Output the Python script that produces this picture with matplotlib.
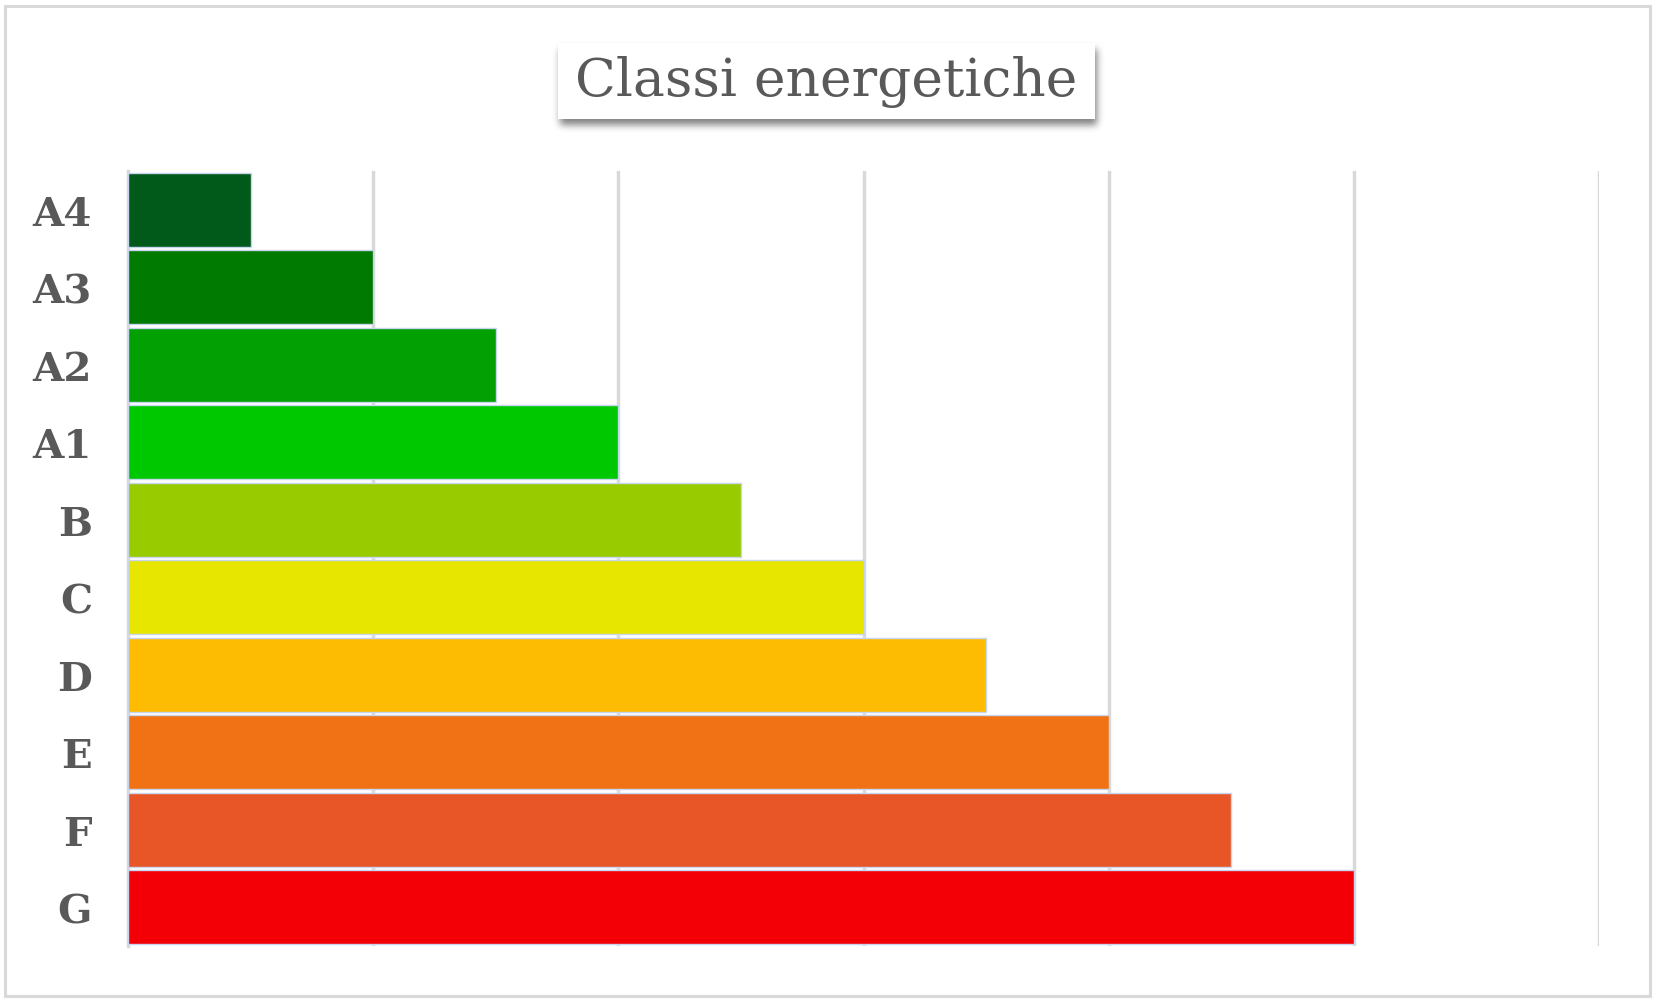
import numpy as np
import matplotlib
matplotlib.use("Agg")
import matplotlib.pyplot as plt
from matplotlib.patches import Rectangle

# energy classes, top to bottom
classes = ['A4', 'A3', 'A2', 'A1', 'B', 'C', 'D', 'E', 'F', 'G']
values = [1, 2, 3, 4, 5, 6, 7, 8, 9, 10]
colors = ['#01591a', '#017a01', '#02a002', '#00c800', '#99cc00',
          '#e6e600', '#fdbb02', '#f07215', '#e85527', '#f20006']
grid_ticks = [2, 4, 6, 8, 10, 12]
title_text = 'Classi energetiche'

W, H = 1659, 1003
fig = plt.figure(figsize=(W / 100, H / 100), dpi=100)
fig.patch.set_facecolor('white')

# plot area in pixels (left, top, right, bottom)
L, T, R, B = 128, 172, 1599, 947
ax = fig.add_axes([L / W, 1 - B / H, (R - L) / W, (B - T) / H])

y_pos = np.arange(len(classes))
ax.barh(y_pos, values, height=0.96, color=colors, edgecolor='#c8d5ee', linewidth=1.0, zorder=3)

ax.set_xlim(0, 12)
ax.set_ylim(len(classes) - 0.5, -0.5)
ax.set_xticks(grid_ticks)
ax.set_xticklabels([])
ax.tick_params(axis='x', length=0)
ax.grid(axis='x', color='#d9d9d9', linewidth=2.5, zorder=0)
ax.set_yticks(y_pos)
ax.set_yticklabels(classes, family='DejaVu Serif', fontweight='bold', fontsize=29, color='#595959')
ax.tick_params(axis='y', length=0, pad=26)
for side in ['top', 'right', 'bottom']:
    ax.spines[side].set_visible(False)
ax.spines['left'].set_color('#d9d9d9')
ax.spines['left'].set_linewidth(2.5)

# outer chart border
fig.patches.append(Rectangle((5 / W, 1 - 997 / H), 1645 / W, 990 / H, transform=fig.transFigure,
                             fill=False, edgecolor='#d9d9d9', linewidth=2.2, zorder=0))

# title box with a soft shadow
bx0, by0, bx1, by1 = 558, 44, 1095, 120
pad = 30
sh = np.zeros((by1 - by0 + 2 * pad, bx1 - bx0 + 2 * pad))
sh[pad + 6:pad + 6 + (by1 - by0), pad + 2:pad + 2 + (bx1 - bx0)] = 1.0
k = np.ones(7) / 7
for _ in range(3):
    sh = np.apply_along_axis(lambda r: np.convolve(r, k, mode='same'), 1, sh)
    sh = np.apply_along_axis(lambda c: np.convolve(c, k, mode='same'), 0, sh)
rgba = np.zeros(sh.shape + (4,))
rgba[..., :3] = 0.35
rgba[..., 3] = sh * 0.75
fig.figimage(rgba, xo=bx0 - pad, yo=H - by1 - pad, origin='upper', zorder=1)

fig.patches.append(Rectangle((bx0 / W, 1 - by1 / H), (bx1 - bx0) / W, (by1 - by0) / H,
                             transform=fig.transFigure, facecolor='white', edgecolor='none', zorder=2))
fig.text(826 / W, 1 - 96 / H, title_text, ha='center', va='baseline', family='DejaVu Serif',
         fontsize=38.5, color='#595959', zorder=3)

fig.savefig('out.png', dpi=100, facecolor='white')
